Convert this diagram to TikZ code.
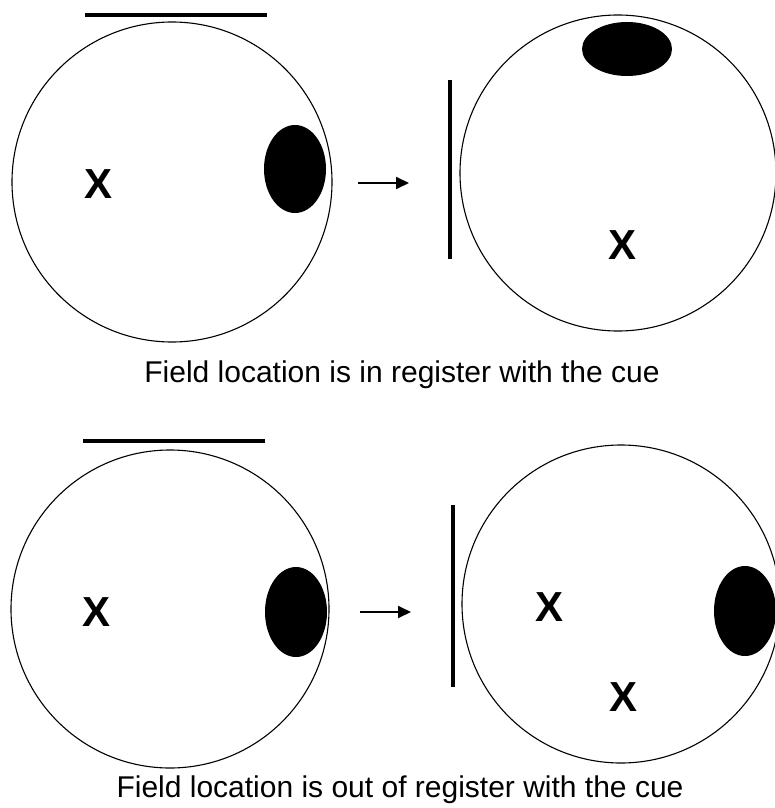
\documentclass[tikz,border=0pt]{standalone}
\usepackage{fontspec}
\setmainfont{Liberation Sans}
\usepackage{tikz}
\usetikzlibrary{shapes.geometric,arrows.meta}

\tikzset{
   arena/.style={circle,draw,line width=1.1pt,minimum size=#1,inner sep=0pt},
   field/.style={ellipse,fill=black,inner sep=0pt},
   cue/.style={line width=4.5pt},
   xmark/.style={font=\fontsize{42}{42}\selectfont\bfseries,inner sep=0pt},
   caption/.style={font=\fontsize{30}{34}\selectfont,anchor=base},
   move/.style={line width=1.8pt,-{Triangle[length=13pt,width=12pt]}}
}

\begin{document}
\begin{tikzpicture}[x=1pt,y=-1pt]
   \useasboundingbox[fill=white] (0,0) rectangle (774,808);

   % Top row
   \begin{scope}
      \draw[cue] (85,15) -- (267,15);
      \node[arena=320pt] (arenaTL) at (172,182) {};
      \node[field,minimum width=62pt,minimum height=88pt] (fieldTL) at (295,169) {};
      \node[xmark] (xTL) at (99,184) {X};

      \coordinate (moveTs) at (358,183);
      \coordinate (moveTe) at (409,183);
      \draw[move] (moveTs) -- (moveTe);

      \draw[cue] (450,80) -- (450,259);
      \node[arena=316pt] (arenaTR) at (618,173) {};
      \node[field,minimum width=90pt,minimum height=54pt] (fieldTR) at (627,49) {};
      \node[xmark] (xTR) at (622,245) {X};

      \node[caption] (capT) at (402,382) {Field location is in register with the cue};
   \end{scope}

   % Bottom row
   \begin{scope}
      \draw[cue] (83,441) -- (265,441);
      \node[arena=318pt] (arenaBL) at (170,609) {};
      \node[field,minimum width=62pt,minimum height=90pt] (fieldBL) at (296,612) {};
      \node[xmark] (xBL) at (97,612) {X};

      \coordinate (moveBs) at (360,612);
      \coordinate (moveBe) at (411,612);
      \draw[move] (moveBs) -- (moveBe);

      \draw[cue] (453,505) -- (453,687);
      \node[arena=318pt] (arenaBR) at (621,604) {};
      \node[field,minimum width=62pt,minimum height=90pt] (fieldBR) at (745,611) {};
      \node[xmark] (xBR1) at (549,607) {X};
      \node[xmark] (xBR2) at (623,697) {X};

      \node[caption] (capB) at (400,797) {Field location is out of register with the cue};
   \end{scope}
\end{tikzpicture}
\end{document}
